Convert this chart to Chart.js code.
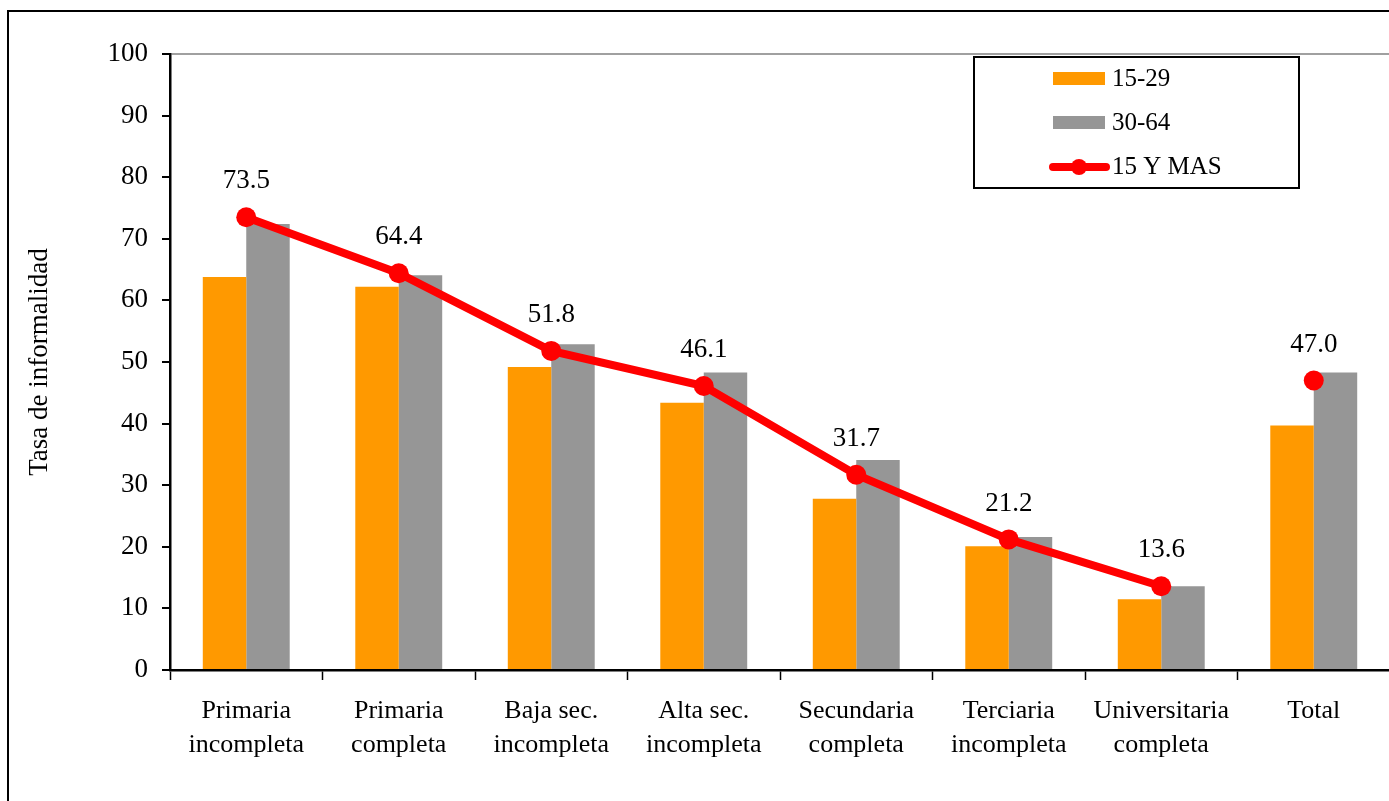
<!DOCTYPE html>
<html>
<head>
<meta charset="utf-8">
<script src="https://cdn.jsdelivr.net/npm/chart.js@4"></script>
<style>
  html, body { margin: 0; padding: 0; background: #fff; overflow: hidden; }
  #frame { position: absolute; left: 7px; top: 10px; width: 1420px; height: 830px; border: 2px solid #000; }
  #wrap { position: absolute; left: 0; top: 0; width: 1400px; height: 801px; }
</style>
</head>
<body>
<div id="frame"></div>
<div id="wrap"><canvas id="chart"></canvas></div>
<script>
// Datos del gráfico
const categorias = [
    ['Primaria', 'incompleta'],
    ['Primaria', 'completa'],
    ['Baja sec.', 'incompleta'],
    ['Alta sec.', 'incompleta'],
    ['Secundaria', 'completa'],
    ['Terciaria', 'incompleta'],
    ['Universitaria', 'completa'],
    'Total'
];
const jovenes = [63.8, 62.2, 49.2, 43.4, 27.8, 20.1, 11.5, 39.7];   // 15-29
const adultos = [72.4, 64.1, 52.9, 48.3, 34.1, 21.6, 13.6, 48.3];   // 30-64
const total15 = [73.5, 64.4, 51.8, 46.1, 31.7, 21.2, 13.6, 47.0];   // 15 Y MAS
const ticksY = [0, 10, 20, 30, 40, 50, 60, 70, 80, 90, 100];

const NARANJA = '#FF9900';
const GRIS = '#969696';
const ROJO = '#FF0000';
const FUENTE = '"Liberation Serif", "Times New Roman", serif';

// Etiquetas de valor sobre la línea
const etiquetasPlugin = {
    id: 'etiquetas',
    afterDatasetsDraw(chart) {
        const ctx = chart.ctx;
        const meta = chart.getDatasetMeta(2);
        ctx.save();
        ctx.font = '27px ' + FUENTE;
        ctx.fillStyle = '#000';
        ctx.textAlign = 'center';
        ctx.textBaseline = 'middle';
        meta.data.forEach((pt, i) => {
            ctx.fillText(total15[i].toFixed(1), pt.x, pt.y - 36);
        });
        ctx.restore();
    }
};

// Leyenda con recuadro
const leyendaPlugin = {
    id: 'leyenda',
    afterDraw(chart) {
        const ctx = chart.ctx;
        ctx.save();
        ctx.fillStyle = '#fff';
        ctx.fillRect(974, 57, 325, 131);
        ctx.strokeStyle = '#000';
        ctx.lineWidth = 2;
        ctx.strokeRect(974, 57, 325, 131);
        ctx.font = '25px ' + FUENTE;
        ctx.textBaseline = 'middle';
        ctx.textAlign = 'left';
        const ds = chart.data.datasets;
        // 15-29
        ctx.fillStyle = NARANJA;
        ctx.fillRect(1053, 72, 52, 13);
        ctx.fillStyle = '#000';
        ctx.fillText(ds[0].label, 1112, 79);
        // 30-64
        ctx.fillStyle = GRIS;
        ctx.fillRect(1053, 116, 52, 13);
        ctx.fillStyle = '#000';
        ctx.fillText(ds[1].label, 1112, 123);
        // 15 Y MAS
        ctx.strokeStyle = ROJO;
        ctx.lineWidth = 8;
        ctx.lineCap = 'round';
        ctx.beginPath();
        ctx.moveTo(1053, 167);
        ctx.lineTo(1106, 167);
        ctx.stroke();
        ctx.fillStyle = ROJO;
        ctx.beginPath();
        ctx.arc(1079, 167, 8, 0, Math.PI * 2);
        ctx.fill();
        ctx.fillStyle = '#000';
        ctx.fillText(ds[2].label, 1112, 167);
        ctx.restore();
    }
};

const ultimo = total15.length - 1;

new Chart(document.getElementById('chart').getContext('2d'), {
    data: {
        labels: categorias,
        datasets: [
            {
                type: 'bar',
                label: '15-29',
                data: jovenes,
                backgroundColor: NARANJA,
                barPercentage: 1,
                categoryPercentage: 0.57,
                order: 1
            },
            {
                type: 'bar',
                label: '30-64',
                data: adultos,
                backgroundColor: GRIS,
                barPercentage: 1,
                categoryPercentage: 0.57,
                order: 1
            },
            {
                type: 'line',
                label: '15 Y MAS',
                data: total15,
                borderColor: ROJO,
                backgroundColor: ROJO,
                borderWidth: 8,
                pointRadius: 10,
                pointHoverRadius: 10,
                pointBorderWidth: 0,
                tension: 0,
                order: 0,
                segment: {
                    // la línea no llega al Total
                    borderColor: c => c.p1DataIndex === ultimo ? 'rgba(0,0,0,0)' : ROJO
                }
            }
        ]
    },
    options: {
        responsive: true,
        maintainAspectRatio: false,
        animation: false,
        layout: { padding: { left: 0, top: 54, right: 6, bottom: 0 } },
        plugins: {
            legend: { display: false },
            tooltip: { enabled: false }
        },
        scales: {
            x: {
                offset: true,
                afterFit: s => { s.height = 131; },
                grid: {
                    offset: true,
                    color: 'rgba(0,0,0,0)',
                    tickColor: '#000',
                    tickLength: 10,
                    tickWidth: 1.5
                },
                border: { display: true, color: '#000', width: 2.5 },
                ticks: {
                    color: '#000',
                    padding: 14,
                    maxRotation: 0,
                    autoSkip: false,
                    font: { family: FUENTE, size: 26, lineHeight: 1.3 }
                }
            },
            y: {
                min: 0,
                max: 100,
                afterFit: s => { s.width = 170; },
                afterBuildTicks: s => { s.ticks = ticksY.map(v => ({ value: v })); },
                grid: {
                    color: c => c.tick && c.tick.value === 100 ? '#A0A0A0' : 'rgba(0,0,0,0)',
                    lineWidth: 2,
                    tickColor: '#000',
                    tickLength: 8,
                    tickWidth: 2
                },
                border: { display: true, color: '#000', width: 2.5 },
                ticks: {
                    color: '#000',
                    padding: 14,
                    font: { family: FUENTE, size: 27 }
                },
                title: {
                    display: true,
                    text: 'Tasa de informalidad',
                    color: '#000',
                    padding: { top: 24, bottom: 0 },
                    font: { family: FUENTE, size: 27 }
                }
            }
        }
    },
    plugins: [etiquetasPlugin, leyendaPlugin]
});
</script>
</body>
</html>
